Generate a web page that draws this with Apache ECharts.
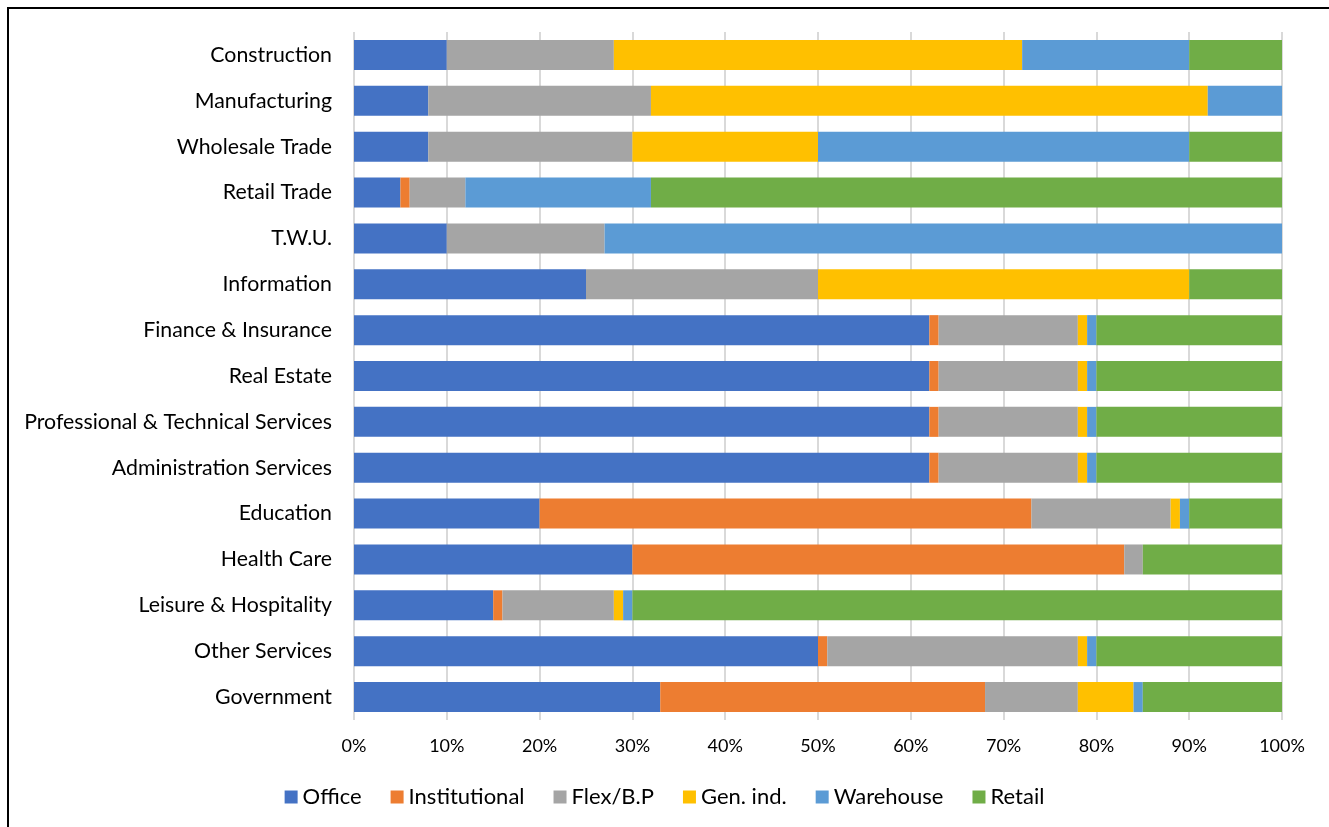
<!DOCTYPE html>
<html>
<head>
<meta charset="utf-8">
<script src="https://cdn.jsdelivr.net/npm/echarts@6/dist/echarts.min.js"></script>
<style>
  html, body { margin: 0; padding: 0; background: #fff; }
  #frame { position: absolute; left: 7px; top: 7px; width: 1340px; height: 840px; border: 2px solid #000; box-sizing: border-box; }
  #chart { position: absolute; left: 0; top: 0; width: 1329px; height: 827px; }
</style>
</head>
<body>
<div id="frame"></div>
<div id="chart"></div>
<script>
// Industry sectors (top to bottom)
const categories = [
  'Construction', 'Manufacturing', 'Wholesale Trade', 'Retail Trade', 'T.W.U.',
  'Information', 'Finance & Insurance', 'Real Estate', 'Professional & Technical Services',
  'Administration Services', 'Education', 'Health Care', 'Leisure & Hospitality',
  'Other Services', 'Government'
];

// Share of each building type, percent
const office        = [10,  8,  8,  5, 10, 25, 62, 62, 62, 62, 20, 30, 15, 50, 33];
const institutional = [ 0,  0,  0,  1,  0,  0,  1,  1,  1,  1, 53, 53,  1,  1, 35];
const flexBP        = [18, 24, 22,  6, 17, 25, 15, 15, 15, 15, 15,  2, 12, 27, 10];
const genInd        = [44, 60, 20,  0,  0, 40,  1,  1,  1,  1,  1,  0,  1,  1,  6];
const warehouse     = [18,  8, 40, 20, 73,  0,  1,  1,  1,  1,  1,  0,  1,  1,  1];
const retail        = [10,  0, 10, 68,  0, 10, 20, 20, 20, 20, 10, 15, 70, 20, 15];

const seriesNames  = ['Office', 'Institutional', 'Flex/B.P', 'Gen. ind.', 'Warehouse', 'Retail'];
const seriesData   = [office, institutional, flexBP, genInd, warehouse, retail];
const seriesColors = ['#4472C4', '#ED7D31', '#A5A5A5', '#FFC000', '#5B9BD5', '#70AD47'];

const FONT = 'Lato, "Liberation Sans", Arial, sans-serif';

const chart = echarts.init(document.getElementById('chart'), null, { renderer: 'canvas' });

chart.setOption({
  animation: false,
  backgroundColor: 'transparent',
  color: seriesColors,
  textStyle: { fontFamily: FONT },
  grid: { left: 354, right: 47, top: 32, height: 688, containLabel: false },
  legend: {
    data: seriesNames,
    top: 781,
    left: 'center',
    icon: 'rect',
    itemWidth: 13,
    itemHeight: 13,
    itemGap: 29,
    textStyle: { fontFamily: FONT, fontSize: 22, color: '#000' }
  },
  xAxis: {
    type: 'value',
    min: 0,
    max: 100,
    interval: 10,
    axisLine: { show: false },
    axisTick: { show: false },
    axisLabel: {
      formatter: '{value}%',
      fontFamily: FONT,
      fontSize: 18,
      color: '#000',
      margin: 17
    },
    splitLine: { show: true, lineStyle: { color: '#d9d9d9', width: 2 } }
  },
  yAxis: {
    type: 'category',
    data: categories,
    inverse: true,
    axisLine: { show: false },
    axisTick: { show: false },
    axisLabel: {
      fontFamily: FONT,
      fontSize: 21.3,
      color: '#000',
      margin: 22
    }
  },
  series: seriesNames.map((name, i) => ({
    name: name,
    type: 'bar',
    stack: 'total',
    barWidth: 30,
    data: seriesData[i],
    itemStyle: { color: seriesColors[i] },
    emphasis: { disabled: true }
  }))
});
</script>
</body>
</html>
